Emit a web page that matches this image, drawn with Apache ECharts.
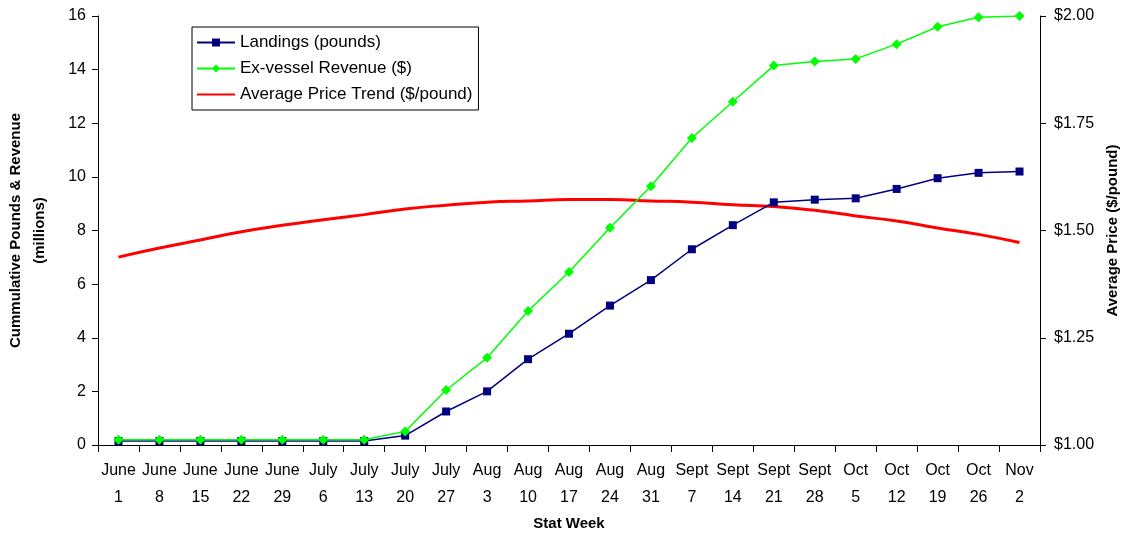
<!DOCTYPE html>
<html>
<head>
<meta charset="utf-8">
<script src="https://cdn.jsdelivr.net/npm/echarts@6/dist/echarts.min.js"></script>
<style>
  html, body { margin: 0; padding: 0; background: #fff; }
  #chart { width: 1122px; height: 536px; }
</style>
</head>
<body>
<div id="chart"></div>
<script>
const weeks = ['June\n1', 'June\n8', 'June\n15', 'June\n22', 'June\n29', 'July\n6', 'July\n13',
  'July\n20', 'July\n27', 'Aug\n3', 'Aug\n10', 'Aug\n17', 'Aug\n24', 'Aug\n31', 'Sept\n7',
  'Sept\n14', 'Sept\n21', 'Sept\n28', 'Oct\n5', 'Oct\n12', 'Oct\n19', 'Oct\n26', 'Nov\n2'];

// cumulative millions
const landings = [0.15, 0.15, 0.15, 0.15, 0.15, 0.15, 0.15, 0.35, 1.25, 2.0, 3.2, 4.15,
  5.2, 6.15, 7.3, 8.2, 9.05, 9.15, 9.2, 9.55, 9.95, 10.15, 10.2];
const revenue = [0.2, 0.2, 0.2, 0.2, 0.2, 0.2, 0.2, 0.5, 2.05, 3.25, 5.0, 6.45,
  8.1, 9.65, 11.45, 12.8, 14.15, 14.3, 14.4, 14.95, 15.6, 15.95, 16.0];

// $/pound
const priceTrend = [1.438, 1.459, 1.478, 1.497, 1.512, 1.525, 1.537, 1.55, 1.559, 1.566,
  1.569, 1.572, 1.572, 1.569, 1.566, 1.560, 1.556, 1.547, 1.534, 1.522, 1.506, 1.491, 1.472];

const font = 'Liberation Sans, Arial, sans-serif';
const chart = echarts.init(document.getElementById('chart'));

chart.setOption({
  animation: false,
  textStyle: { fontFamily: font },
  grid: { left: 98, right: 82, top: 16, bottom: 91, containLabel: false, outerBoundsMode: 'none' },
  legend: {
    left: 192,
    top: 27,
    orient: 'vertical',
    itemWidth: 38,
    itemHeight: 10,
    itemGap: 9,
    padding: [7, 6, 7, 4],
    borderColor: '#000',
    borderWidth: 1,
    textStyle: { fontSize: 17, color: '#000', fontFamily: font },
    data: [
      'Landings (pounds)',
      'Ex-vessel Revenue ($)',
      { name: 'Average Price Trend ($/pound)', itemStyle: { opacity: 0 } }
    ]
  },
  xAxis: {
    type: 'category',
    data: weeks,
    boundaryGap: true,
    name: 'Stat Week',
    nameLocation: 'middle',
    nameGap: 71,
    nameTextStyle: { fontSize: 15, fontWeight: 'bold', color: '#000' },
    axisLine: { lineStyle: { color: '#000' } },
    axisTick: { show: true, alignWithLabel: false, length: 7, lineStyle: { color: '#000' } },
    axisLabel: { interval: 0, fontSize: 16, color: '#000', lineHeight: 27, margin: 12 },
    splitLine: { show: false }
  },
  yAxis: [
    {
      type: 'value',
      min: 0,
      max: 16,
      interval: 2,
      name: 'Cummulative Pounds & Revenue\n(millions)',
      nameLocation: 'middle',
      nameGap: 46,
      nameRotate: 90,
      nameTextStyle: { fontSize: 15, fontWeight: 'bold', color: '#000', lineHeight: 24 },
      axisLine: { show: true, lineStyle: { color: '#000' } },
      axisTick: { show: true, length: 6, lineStyle: { color: '#000' } },
      axisLabel: { fontSize: 16, color: '#000', margin: 12 },
      splitLine: { show: false }
    },
    {
      type: 'value',
      min: 1,
      max: 2,
      interval: 0.25,
      position: 'right',
      name: 'Average Price ($/pound)',
      nameLocation: 'middle',
      nameGap: 62,
      nameRotate: 90,
      nameTextStyle: { fontSize: 15, fontWeight: 'bold', color: '#000' },
      axisLine: { show: true, lineStyle: { color: '#000' } },
      axisTick: { show: true, length: 6, lineStyle: { color: '#000' } },
      axisLabel: { fontSize: 16, color: '#000', margin: 14,
        formatter: v => '$' + v.toFixed(2) },
      splitLine: { show: false }
    }
  ],
  series: [
    {
      name: 'Landings (pounds)',
      type: 'line',
      data: landings,
      symbol: 'rect',
      symbolSize: 8,
      itemStyle: { color: '#000080' },
      lineStyle: { color: '#000080', width: 1.5 }
    },
    {
      name: 'Ex-vessel Revenue ($)',
      type: 'line',
      data: revenue,
      symbol: 'diamond',
      symbolSize: 10,
      itemStyle: { color: '#00ff00' },
      lineStyle: { color: '#00ff00', width: 1.5 }
    },
    {
      name: 'Average Price Trend ($/pound)',
      type: 'line',
      yAxisIndex: 1,
      data: priceTrend,
      smooth: true,
      symbol: 'none',
      z: 1,
      itemStyle: { color: '#ff0000' },
      lineStyle: { color: '#ff0000', width: 3 }
    }
  ]
});
</script>
</body>
</html>
